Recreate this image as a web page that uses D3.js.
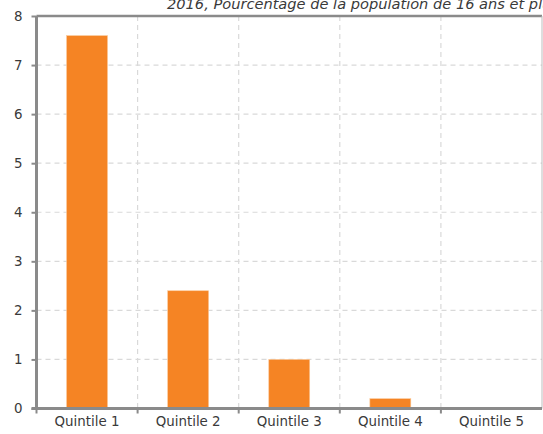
<!DOCTYPE html>
<html><head><meta charset="utf-8">
<script src="https://cdn.jsdelivr.net/npm/d3@7"></script>
<style>body{margin:0;background:#fff;} svg{display:block;}</style>
</head><body>
<svg id="c" width="543" height="434"></svg>
<script>
const categories = ["Quintile 1","Quintile 2","Quintile 3","Quintile 4","Quintile 5"];
const values = [7.6, 2.4, 1.0, 0.2, 0];
const yTicks = [0,1,2,3,4,5,6,7,8];
const subtitle = "2016, Pourcentage de la population de 16 ans et plus";

const svg = d3.select("#c");
const L = 36.5, R = 542, T = 16, B = 408.5;
const font = "'DejaVu Sans', sans-serif";
const textCol = "#3a3a3a", axisCol = "#8a8a8a", gridCol = "#d9d9d9";

const x = d3.scaleBand().domain(categories).range([L, R]).paddingInner(0).paddingOuter(0);
const y = d3.scaleLinear().domain([0, 8]).range([B, T]);

svg.append("text").attr("x", 167).attr("y", 8.5)
  .attr("font-family", font).attr("font-style", "italic").attr("font-size", 14.6)
  .attr("fill", textCol).text(subtitle);

// horizontal grid
svg.append("g").selectAll("line").data(yTicks.filter(d => d > 0 && d < 8)).join("line")
  .attr("x1", L).attr("x2", R).attr("y1", d => y(d)).attr("y2", d => y(d))
  .attr("stroke", gridCol).attr("stroke-width", 1.2).attr("stroke-dasharray", "5,4");
// vertical grid
svg.append("g").selectAll("line").data(categories.slice(1)).join("line")
  .attr("x1", d => x(d)).attr("x2", d => x(d)).attr("y1", T).attr("y2", B)
  .attr("stroke", gridCol).attr("stroke-width", 1.2).attr("stroke-dasharray", "5,4");

// bars
const bw = x.bandwidth() * 0.405;
svg.append("g").selectAll("rect").data(values).join("rect")
  .attr("x", (d, i) => x(categories[i]) + x.bandwidth() / 2 - bw / 2)
  .attr("width", bw)
  .attr("y", d => y(d)).attr("height", d => B - y(d))
  .attr("fill", "#f58424").attr("stroke", "#fbc99a").attr("stroke-width", 0.6);

// frame top & right
svg.append("line").attr("x1", L).attr("x2", R).attr("y1", T).attr("y2", T)
  .attr("stroke", axisCol).attr("stroke-width", 2.5);
svg.append("line").attr("x1", R).attr("x2", R).attr("y1", T).attr("y2", B)
  .attr("stroke", "#bdbdbd").attr("stroke-width", 1);

// y axis
const yAxis = d3.axisLeft(y).tickValues(yTicks).tickSize(5).tickPadding(9).tickFormat(d3.format("d"));
const gy = svg.append("g").attr("transform", `translate(${L},0)`).call(yAxis);
gy.select(".domain").attr("stroke", axisCol).attr("stroke-width", 3).attr("d", `M0,${T}V${B}`);
gy.selectAll(".tick line").attr("stroke", axisCol).attr("stroke-width", 2);
gy.selectAll(".tick text").attr("font-family", font).attr("font-size", 13.4).attr("fill", textCol);

// x axis
const xAxis = d3.axisBottom(x).tickSize(0).tickPadding(8);
const gx = svg.append("g").attr("transform", `translate(0,${B})`).call(xAxis);
gx.select(".domain").attr("stroke", axisCol).attr("stroke-width", 3).attr("d", `M${L-5},0H${R}`);
gx.selectAll(".tick text").attr("font-family", font).attr("font-size", 13.4).attr("fill", textCol);
// boundary ticks
svg.append("g").selectAll("line").data(categories).join("line")
  .attr("x1", d => x(d)).attr("x2", d => x(d)).attr("y1", B).attr("y2", B + 5)
  .attr("stroke", axisCol).attr("stroke-width", 2);
</script>
</body></html>
